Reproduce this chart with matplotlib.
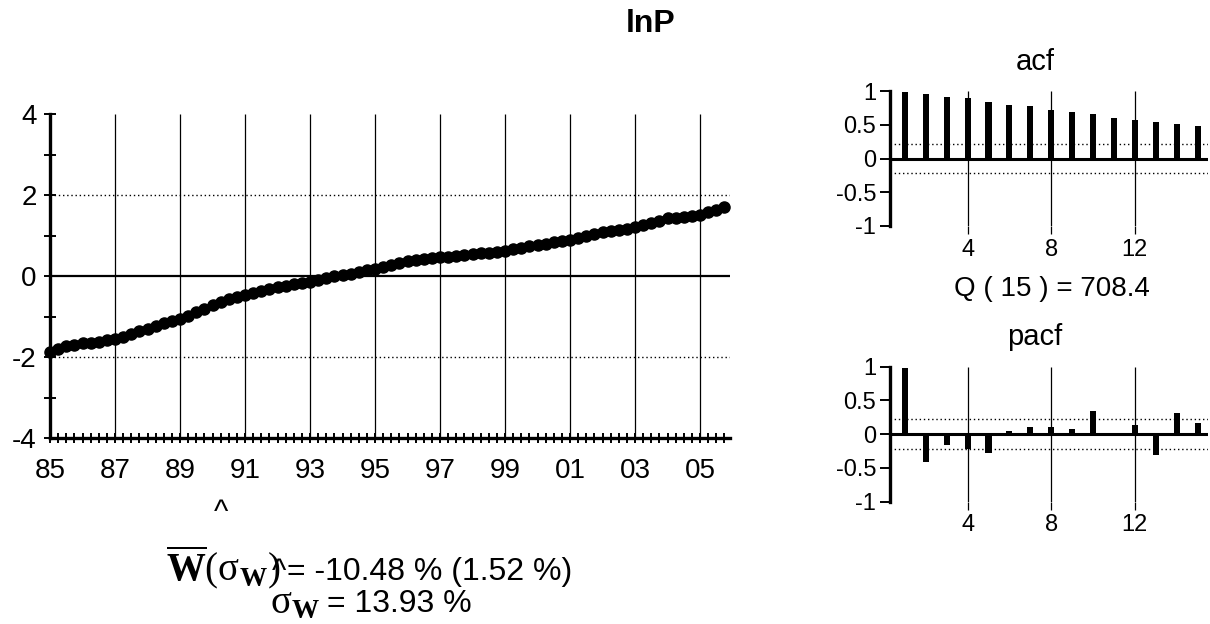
import numpy as np
import matplotlib
matplotlib.use("Agg")
import matplotlib.pyplot as plt
from matplotlib.ticker import FixedLocator

plt.rcParams['font.family'] = ['Liberation Sans', 'DejaVu Sans']
plt.rcParams['axes.unicode_minus'] = False
plt.rcParams['mathtext.fontset'] = 'custom'
plt.rcParams['mathtext.rm'] = 'Liberation Serif'
plt.rcParams['mathtext.bf'] = 'Liberation Serif:bold'
plt.rcParams['mathtext.it'] = 'Liberation Serif:italic'

# ---------------- data ----------------
start_year = 1985
lnp = [
    -1.87, -1.80, -1.74, -1.70,   # 1985
    -1.66, -1.66, -1.62, -1.58,   # 1986
    -1.55, -1.50, -1.44, -1.37,   # 1987
    -1.30, -1.24, -1.17, -1.11,   # 1988
    -1.05, -0.98, -0.90, -0.81,   # 1989
    -0.72, -0.65, -0.57, -0.52,   # 1990
    -0.47, -0.43, -0.37, -0.32,   # 1991
    -0.27, -0.24, -0.20, -0.17,   # 1992
    -0.14, -0.10, -0.05, -0.01,   # 1993
    0.03, 0.06, 0.10, 0.14,       # 1994
    0.18, 0.21, 0.26, 0.31,       # 1995
    0.36, 0.39, 0.42, 0.44,       # 1996
    0.46, 0.48, 0.50, 0.52,       # 1997
    0.54, 0.56, 0.58, 0.60,       # 1998
    0.62, 0.66, 0.70, 0.73,       # 1999
    0.77, 0.80, 0.83, 0.86,       # 2000
    0.89, 0.94, 0.99, 1.04,       # 2001
    1.08, 1.10, 1.13, 1.17,       # 2002
    1.20, 1.25, 1.31, 1.37,       # 2003
    1.42, 1.44, 1.46, 1.48,       # 2004
    1.51, 1.57, 1.64, 1.71,       # 2005
]
x_tick_years = [1985, 1987, 1989, 1991, 1993, 1995, 1997, 1999, 2001, 2003, 2005]
x_tick_labels = ['85', '87', '89', '91', '93', '95', '97', '99', '01', '03', '05']
y_ticks_main = [-4, -2, 0, 2, 4]
y_band = 2

lags = list(range(1, 16))
acf_vals = [0.99, 0.95, 0.915, 0.89, 0.83, 0.80, 0.775, 0.715, 0.69, 0.655,
            0.60, 0.57, 0.54, 0.51, 0.48]
pacf_vals = [0.98, -0.415, -0.165, -0.215, -0.275, 0.045, 0.11, 0.11, 0.075, 0.34,
             -0.015, 0.135, -0.31, 0.31, 0.17]
conf = 0.22
q_text = "Q ( 15 ) = 708.4"
title = "lnP"
stat1_math = r"$\overline{\mathbf{W}}(\mathrm{\sigma}_{\mathbf{W}})$"
stat1_text = "= -10.48 % (1.52 %)"
stat2_math = r"$\mathrm{\sigma}_{\mathbf{W}}$"
stat2_text = "= 13.93 %"

# ---------------- figure ----------------
W, H = 1210, 624
fig = plt.figure(figsize=(W / 100, H / 100), dpi=100)

def fx(px):
    return px / W

def fy(py):
    return 1 - py / H

# main axes
ax = fig.add_axes([fx(50), fy(438), fx(730) - fx(50), fy(114) - fy(438)])
t = start_year + np.arange(len(lnp)) / 4.0
ax.set_xlim(1985, 2005.92)
ax.set_ylim(-4, 4)
for s in ['top', 'right']:
    ax.spines[s].set_visible(False)
ax.spines['left'].set_linewidth(2.4)
ax.spines['bottom'].set_linewidth(2.4)

ax.vlines(x_tick_years[1:], -4, 4, colors='black', lw=0.9, zorder=1)
ax.axhline(0, color='black', lw=1.6, zorder=1)
ax.axhline(y_band, color='black', lw=1.0, ls=(0, (1, 2)), zorder=1)
ax.axhline(-y_band, color='black', lw=1.0, ls=(0, (1, 2)), zorder=1)

ax.plot(t, lnp, color='black', lw=2, marker='o', ms=8, zorder=3, clip_on=False)

ax.set_xticks(x_tick_years)
ax.set_xticklabels(x_tick_labels)
ax.xaxis.set_minor_locator(FixedLocator(start_year + np.arange(len(lnp)) / 4.0))
ax.tick_params(axis='x', which='both', direction='inout', length=7, width=1.4, pad=11,
               labelsize=20)
ax.set_yticks(y_ticks_main)
ax.yaxis.set_minor_locator(FixedLocator([-3, -1, 1, 3]))
ax.tick_params(axis='y', which='both', direction='inout', length=9, width=1.4, pad=5,
               labelsize=20)

# title
fig.text(fx(651), fy(24), title, ha='center', va='center', fontsize=23, fontweight='bold')

# stats text
fig.text(fx(281), fy(580), stat1_math, ha='right', va='baseline', fontsize=28)
fig.text(fx(287), fy(580), stat1_text, ha='left', va='baseline', fontsize=23)
fig.text(fx(320), fy(612), stat2_math, ha='right', va='baseline', fontsize=28)
fig.text(fx(327), fy(612), stat2_text, ha='left', va='baseline', fontsize=23)
fig.text(fx(221), fy(513), "^", ha='center', va='center', fontsize=22)
fig.text(fx(279), fy(572), "^", ha='center', va='center', fontsize=22)


def corr_panel(bottom_px, top_px, vals, label, label_y):
    a = fig.add_axes([fx(890), fy(bottom_px), fx(1208) - fx(890), fy(top_px) - fy(bottom_px)])
    a.set_xlim(0.29, 15.5)
    a.set_ylim(-1, 1)
    for s in ['top', 'right', 'bottom']:
        a.spines[s].set_visible(False)
    a.spines['left'].set_linewidth(2.4)
    a.bar(lags, vals, width=0.29, color='black', zorder=3)
    a.axhline(0, color='black', lw=2.2, zorder=2)
    a.axhline(conf, color='black', lw=1.0, ls=(0, (1, 2)), zorder=1)
    a.axhline(-conf, color='black', lw=1.0, ls=(0, (1, 2)), zorder=1)
    a.set_xticks([4, 8, 12])
    a.set_xticklabels(['4', '8', '12'])
    a.vlines([4, 8, 12], -1, 1, colors='black', lw=0.9, zorder=1)
    a.tick_params(axis='x', length=6, width=0.9, pad=3, labelsize=17)
    a.set_yticks([-1, -0.5, 0, 0.5, 1])
    a.set_yticklabels(['-1', '-0.5', '0', '0.5', '1'])
    a.tick_params(axis='y', direction='out', length=7, width=1.4, pad=3, labelsize=17)
    fig.text(fx(1035), fy(label_y), label, ha='center', va='center', fontsize=21)
    return a

corr_panel(226, 91, acf_vals, 'acf', 62)
corr_panel(501.7, 366.7, pacf_vals, 'pacf', 337)
fig.text(fx(1052), fy(289), q_text, ha='center', va='center', fontsize=20)

fig.savefig('out.png', dpi=100)
